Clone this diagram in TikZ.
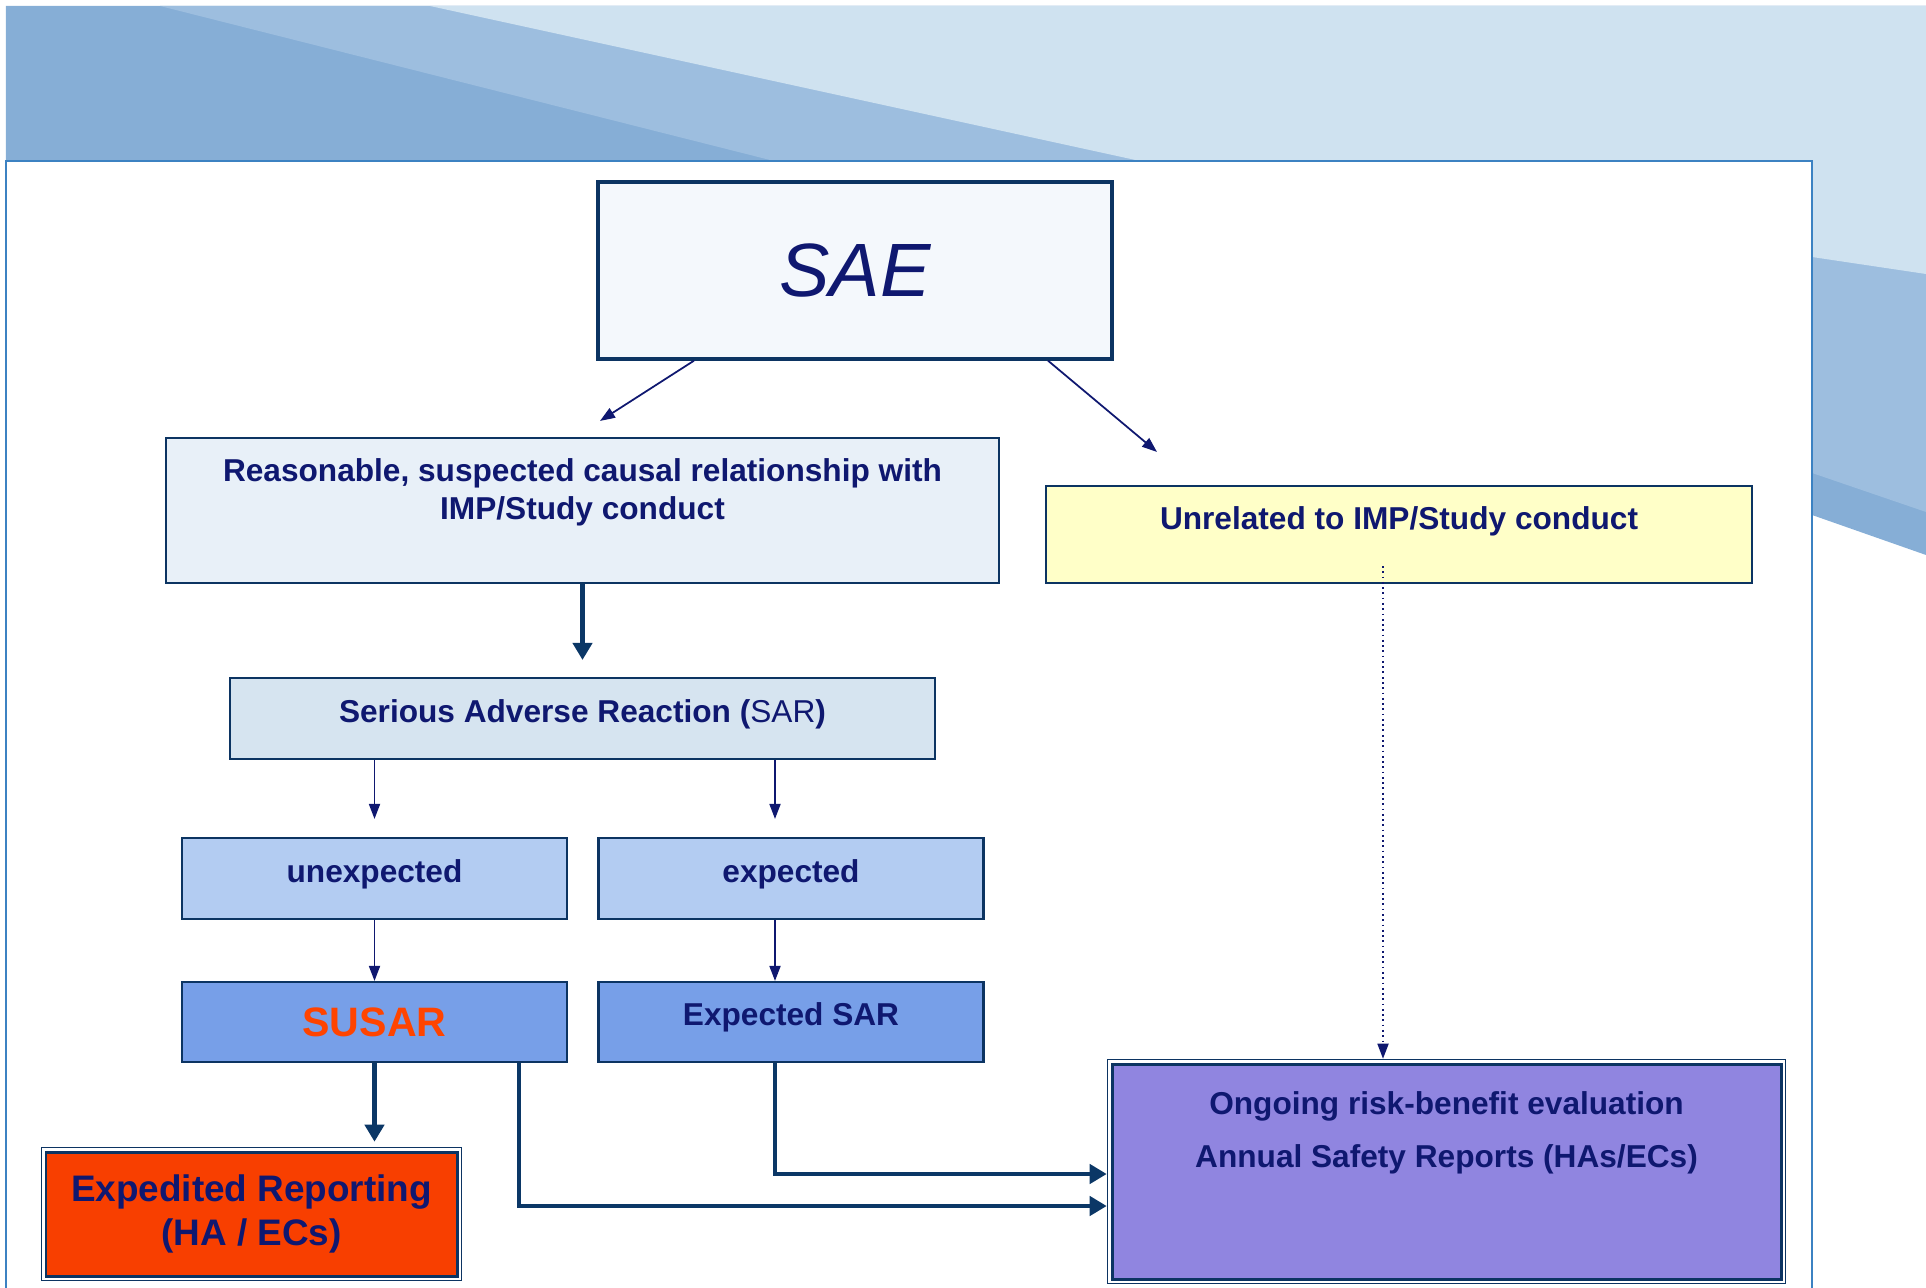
\documentclass[tikz,border=0pt]{standalone}
\usepackage{fontspec}
\setmainfont{Liberation Sans}
\usetikzlibrary{arrows.meta,calc,fit}
\definecolor{bgdark}{HTML}{86AED6}
\definecolor{bgmid}{HTML}{9DBEDF}
\definecolor{bglight}{HTML}{CFE2F0}
\definecolor{frameb}{HTML}{3C82C2}
\definecolor{ink}{HTML}{0F1870}
\definecolor{edge}{HTML}{0C3462}
\definecolor{pipec}{HTML}{0B3766}
\definecolor{root}{HTML}{F4F8FC}
\definecolor{cause}{HTML}{E8F0F8}
\definecolor{unrel}{HTML}{FFFFC8}
\definecolor{sar}{HTML}{D6E4F0}
\definecolor{kind}{HTML}{B3CCF2}
\definecolor{case}{HTML}{779FE8}
\definecolor{rep}{HTML}{F83F00}
\definecolor{eval}{HTML}{9085E0}
\definecolor{alert}{HTML}{FF4400}

\begin{document}
\begin{tikzpicture}[
  font=\fontsize{9}{10.8}\selectfont\bfseries, text=ink,
  box/.style={draw=edge, line width=.6pt, align=center},
  root/.style={box, fill=root, line width=.95pt, minimum width=5.14cm, minimum height=1.77cm, font=\fontsize{21.5}{24}\selectfont\itshape},
  cause/.style={box, fill=cause, minimum width=8.33cm, minimum height=1.45cm, text depth=4.25mm},
  unrel/.style={box, fill=unrel, minimum width=7.06cm, minimum height=.97cm, text depth=3.2mm},
  sar/.style={box, fill=sar, minimum width=7.05cm, minimum height=.81cm, text depth=1.5mm},
  kind/.style={box, fill=kind, minimum width=3.85cm, minimum height=.81cm, text depth=1.5mm},
  case/.style={box, fill=case, minimum width=3.85cm, minimum height=.80cm},
  rep/.style={box, fill=rep, line width=.85pt, minimum width=4.11cm, minimum height=1.24cm, font=\fontsize{10.5}{12.5}\selectfont\bfseries},
  eval/.style={box, fill=eval, line width=.85pt, minimum width=6.69cm, minimum height=2.15cm, text depth=8.3mm},
  outer/.style={draw=edge, line width=.45pt, inner sep=.3mm},
  flow/.style={-{Triangle[length=1.5mm,width=1.1mm]}, line width=.5pt, ink},
  pipe/.style={-{Triangle[length=1.7mm,width=1.9mm]}, line width=1.4pt, pipec},
  dotflow/.style={flow, densely dotted},
]

\useasboundingbox (0,0) rectangle (19.26,12.87);
\clip (0,0) rectangle (19.26,12.87);

% ---------------- backdrop
\fill[bgdark]  (0.06,12.81) -- (19.26,12.81) -- (19.26,7.32) -- (18.12,7.72) -- (0.06,7.72) -- cycle;
\fill[bgmid]   (1.60,12.81) -- (19.26,12.81) -- (19.26,7.75) -- (18.12,8.14) -- (7.74,11.26) -- cycle;
\fill[bglight] (4.30,12.81) -- (19.26,12.81) -- (19.26,10.13) -- (18.12,10.30) -- (11.40,11.26) -- cycle;
\filldraw[fill=white, draw=frameb, line width=.6pt] (0.06,-0.2) -- (0.06,11.26) -- (18.12,11.26) -- (18.12,-0.2);

% ---------------- boxes
\node[root]  (sae)    at (8.55,10.165) {SAE};
\node[cause] (rel)    at (5.825,7.765) {Reasonable, suspected causal relationship with\\IMP/Study conduct};
\node[unrel] (unrel)  at (13.99,7.525) {Unrelated to IMP/Study conduct};
\node[sar]   (sar)    at (5.825,5.685) {Serious Adverse Reaction (\textmd{SAR})};
\node[kind]  (unexp)  at (3.745,4.085) {unexpected};
\node[kind]  (exp)    at (7.91,4.085)  {expected};
\node[case, text=alert, font=\fontsize{11.7}{14}\selectfont\bfseries] (susar) at (3.745,2.65) {SUSAR};
\node[case, text depth=1.5mm] (expsar) at (7.91,2.65) {Expected SAR};
\node[rep]   (rep)    at (2.515,0.73)  {Expedited Reporting\\(HA / ECs)};
\node[eval]  (eval)   at (14.465,1.155) {Ongoing risk-benefit evaluation\\[1.5mm]Annual Safety Reports (HAs/ECs)};
\node[outer, fit=(rep)]  (repo)  {};
\node[outer, fit=(eval)] (evalo) {};

% ---------------- flows
\draw[flow] ([xshift=-16.1mm]sae.south) -- ([xshift=1.75mm,yshift=1.6mm]rel.north);
\draw[flow] ([xshift=19.3mm]sae.south) -- ([xshift=-24.2mm,yshift=3.3mm]unrel.north);
\draw[pipe, shorten >=1.7mm] (rel) -- (sar);
\draw[flow, shorten >=1.8mm] (unexp.north |- sar.south) -- (unexp.north);
\draw[flow, shorten >=1.8mm] ([xshift=-1.6mm]exp.north |- sar.south) -- ([xshift=-1.6mm]exp.north);
\draw[flow] (unexp) -- (susar);
\draw[flow] ([xshift=-1.6mm]exp.south) -- ([xshift=-1.6mm]expsar.north);
\draw[pipe, shorten >=.5mm] (susar.south) -- (susar.south |- repo.north);
\draw[pipe] ([xshift=14.45mm]susar.south) |- ([yshift=-3.45mm]evalo.west);
\draw[pipe] ([xshift=-1.6mm]expsar.south) |- ([yshift=-.25mm]evalo.west);
\draw[dotflow] ([xshift=-1.6mm,yshift=1.8mm]unrel.south) -- ([xshift=-1.6mm]unrel.south |- evalo.north);

\end{tikzpicture}
\end{document}
